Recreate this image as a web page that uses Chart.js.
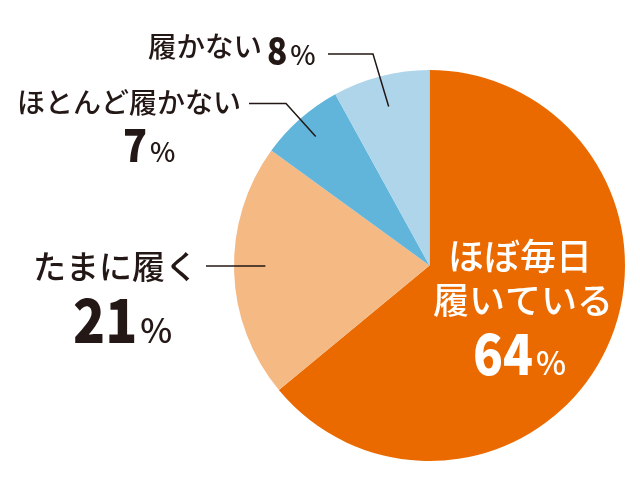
<!DOCTYPE html>
<html>
<head>
<meta charset="utf-8">
<script src="https://cdn.jsdelivr.net/npm/chart.js@4/dist/chart.umd.min.js"></script>
<style>
  body { margin: 0; background: #fff; }
  #wrap { width: 640px; height: 490px; }
</style>
</head>
<body>
<div id="wrap"><canvas id="myChart" width="640" height="490"></canvas></div>
<script>
// data
const categories = ['ほぼ毎日履いている', 'たまに履く', 'ほとんど履かない', '履かない'];
const shares = [64, 21, 7, 8];
const sliceColors = ['#EB6A00', '#F5B984', '#62B5DA', '#AED5EA'];

const JP = '"Noto Sans CJK JP", "Noto Sans", sans-serif';
const INK = '#231815';

// where each label goes (index matches categories)
const labelLayout = [
    { lines: [['ほぼ毎日', 520, 256], ['履いている', 523, 300]], txtSize: 36, color: '#fff',
      num: [473, 375], numSize: 56, pctSize: 32 },
    { lines: [['たまに履く', 33, 266, 'left']], txtSize: 33, color: INK,
      num: [73, 343], numSize: 60, pctSize: 34,
      lead: { frac: 0.84, y: 266, path: [[206, 266]] } },
    { lines: [['ほとんど履かない', 17, 102, 'left']], txtSize: 28, color: INK,
      num: [123, 162], numSize: 45, pctSize: 27,
      lead: { frac: 0.88, path: [[286, 103.5], [249, 103.5]] } },
    { lines: [['履かない', 148, 46, 'left']], txtSize: 28.5, color: INK,
      num: [267, 65], numSize: 38, pctSize: 27,
      lead: { frac: 0.84, path: [[373, 54], [328, 54]] } }
];

const pieLabels = {
    id: 'pieLabels',
    afterDatasetsDraw(chart) {
        const ctx = chart.ctx;
        const arcs = chart.getDatasetMeta(0).data;
        ctx.save();
        labelLayout.forEach(function (lay, i) {
            const arc = arcs[i];
            // leader line from inside the slice
            if (lay.lead) {
                const mid = (arc.startAngle + arc.endAngle) / 2;
                const r = arc.outerRadius * lay.lead.frac;
                const ax = arc.x + Math.cos(mid) * r;
                const ay = lay.lead.y != null ? lay.lead.y : arc.y + Math.sin(mid) * r;
                ctx.strokeStyle = INK;
                ctx.lineWidth = 1.5;
                ctx.beginPath();
                ctx.moveTo(ax, ay);
                lay.lead.path.forEach(function (p) {
                    ctx.lineTo(p[0], p[1]);
                });
                ctx.stroke();
            }
            ctx.fillStyle = lay.color;
            ctx.textBaseline = 'middle';
            lay.lines.forEach(function (ln) {
                ctx.textAlign = ln[3] || 'center';
                ctx.font = '500 ' + lay.txtSize + 'px ' + JP;
                ctx.fillText(ln[0], ln[1], ln[2]);
            });
            // number + %
            const num = String(shares[i]);
            ctx.textBaseline = 'alphabetic';
            ctx.textAlign = 'left';
            ctx.font = '900 ' + lay.numSize + 'px ' + JP;
            const sx = 0.88;
            const w = ctx.measureText(num).width * sx;
            ctx.save();
            ctx.translate(lay.num[0], lay.num[1]);
            ctx.scale(sx, 1);
            ctx.fillText(num, 0, 0);
            ctx.restore();
            ctx.font = '500 ' + lay.pctSize + 'px ' + JP;
            ctx.fillText('%', lay.num[0] + w + 3, lay.num[1]);
        });
        ctx.restore();
    }
};

const ctx = document.getElementById('myChart').getContext('2d');
const chart = new Chart(ctx, {
    type: 'pie',
    data: {
        labels: categories,
        datasets: [{
            data: shares,
            backgroundColor: sliceColors,
            borderWidth: 0
        }]
    },
    options: {
        responsive: false,
        animation: false,
        layout: { padding: { left: 234, right: 15, top: 70, bottom: 29 } },
        plugins: {
            legend: { display: false },
            tooltip: { enabled: false }
        }
    },
    plugins: [pieLabels]
});
</script>
</body>
</html>
